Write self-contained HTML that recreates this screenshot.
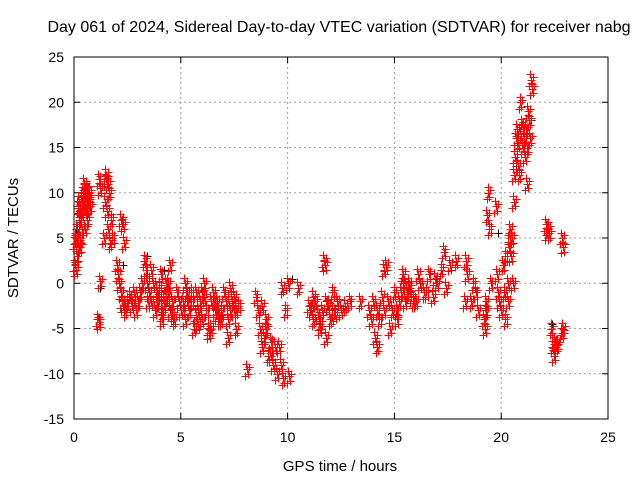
<!DOCTYPE html>
<html><head><meta charset="utf-8"><style>
body{margin:0;background:#fff;}
svg{display:block;font-family:"Liberation Sans",sans-serif;}
</style></head><body>
<svg id="chart" width="640" height="480" viewBox="0 0 640 480">
<rect width="640" height="480" fill="#fff"/>
<text x="339" y="32" text-anchor="middle" font-size="16">Day 061 of 2024, Sidereal Day-to-day VTEC variation (SDTVAR) for receiver nabg</text>
<g id="grid"></g>
<g id="axes"></g>
<g id="marks"></g>
<text x="340" y="471" text-anchor="middle" font-size="15">GPS time / hours</text>
<text x="18" y="238" text-anchor="middle" font-size="15" transform="rotate(-90 18 238)">SDTVAR / TECUs</text>
</svg>
<script>
const xTicks=[0,5,10,15,20,25];
const yTicks=[-15,-10,-5,0,5,10,15,20,25];
const hours=[0.05,0.05,0.08,0.1,0.12,0.15,0.18,0.2,0.22,0.25,0.28,0.3,0.32,0.35,0.38,0.4,0.42,0.45,0.48,0.5,0.52,0.55,0.58,0.6,0.62,0.65,0.68,0.7,0.72,0.75,0.3,0.5,
1.1,1.15,1.2,1.15,1.2,1.4,1.45,1.5,1.55,1.6,1.65,1.7,1.75,1.8,1.5,1.6,
2.0,2.05,2.1,2.2,2.25,2.3,2.35,2.4,2.2,2.3,2.35,2.5,2.6,2.7,2.8,2.9,3.0,3.1,3.2,3.3,3.35,3.4,3.45,
3.5,3.6,3.7,3.8,3.9,4.0,4.05,4.1,4.2,4.3,4.4,4.5,4.6,4.7,4.8,4.9,3.6,3.8,4.0,4.2,4.4,4.6,4.8,3.9,4.1,4.3,4.5,
5.0,5.1,5.2,5.3,5.4,5.5,5.6,5.7,5.8,5.9,6.0,6.1,6.2,6.3,6.4,6.5,6.6,6.7,6.8,6.9,7.0,7.1,7.2,7.3,7.4,7.5,7.6,7.7,5.2,5.5,5.8,6.1,6.4,6.7,7.0,7.3,7.6,5.3,5.7,6.0,6.3,6.6,6.9,7.2,7.5,
8.1,8.5,8.6,8.7,8.8,8.9,9.0,9.1,9.2,9.3,9.4,8.8,9.0,9.2,9.5,9.6,9.7,9.8,9.9,10.0,10.05,9.75,10.5,
11.0,11.1,11.2,11.3,11.4,11.5,11.6,11.7,11.75,11.8,11.9,12.0,12.1,12.2,12.3,11.2,11.5,11.8,12.1,12.5,12.7,12.9,13.4,
13.8,13.9,14.0,14.1,14.2,14.3,14.4,14.5,14.6,14.7,14.8,14.9,15.0,15.1,15.2,15.3,15.4,15.5,15.6,15.7,15.8,15.9,14.2,14.5,14.8,15.1,15.4,15.7,
16.0,16.2,16.4,16.6,16.8,17.0,17.2,17.4,16.1,16.5,16.9,17.3,17.6,17.9,18.3,18.35,18.4,
18.6,18.7,18.8,18.9,19.2,19.25,19.3,19.35,19.4,19.45,19.3,19.5,19.75,19.8,19.85,19.9,
20.0,20.1,20.15,20.2,20.3,20.35,20.4,20.45,20.5,20.55,20.6,20.65,20.7,20.75,20.8,20.85,20.9,20.95,21.0,21.05,21.1,21.15,21.2,21.25,21.3,21.35,21.4,21.45,20.2,20.3,20.4,20.6,20.8,21.0,21.2,
22.1,22.15,22.2,22.25,22.35,22.4,22.45,22.5,22.55,22.6,22.85,22.9,22.85,22.9];
const sdtvar=[2,4.5,1.5,5,3,6,4.5,8.5,7,9,5,7.5,8,9.5,6,10,8.5,9,11,10.5,8,9.5,10,7,10.5,9,8.5,10,9.5,8.5,4,6,
-4,-4.3,0.2,11.5,10.5,5,9,11.5,8,6,10,4.5,7,5,12,11,
2,1,0,-1,-2,-2.5,4.5,-3,7,6.5,4.5,-2,-1.5,-2.5,-1,-3,-2,-1,0,2.5,1.5,0,-2,
-1,-2,0,-3,-1,-2,1,-3.5,-2,0,-1,-3,-2,-4,-1,-2,1.5,-3,-0.5,-2.5,0,-3.5,-1,-2,-4,-1.5,2,
-3,-2,-4,-1,-3,-2,-5,-1,-3,-2,-4,-1.5,-3,-5,-2,-1,-3,-2,-4,-3,-1,-2,-4,-3,-2,-1.5,-3,-2.5,0,-1,-4.5,0,-5,-3.5,-1,-0.5,-5,-2,-3.5,-1,-5.5,-2,-4,-6,-3,
-9.5,-1.5,-3,-5,-7,-6,-4,-8,-6.5,-9,-7,-2.5,-5,-8,-10,-7,-9,-10.5,-3,0,-10.3,-0.5,-0.5,
-2.5,-3,-4,-2,-3.5,-5,-3,2.5,2,-6,-2.5,-4,-3,-3.5,-2,-1.5,-4.5,-2,-1,-3,-2.5,-2,-2,
-3,-4,-2,-6,-3,-4,-1.5,-3,2,-2,-5,-3,-1,-4,-2,-1,0,-2,-1,0,-1.5,-2,-7,1.5,-5,-3,1,-0.5,
-2,0,-1,1,-1.5,0,1.5,-0.5,1,-1,0.5,3.5,2,2.5,-2,2.5,1,
-2,0,-1,-3,-4,-5,-3,7.5,10,6,-2,0,8.5,1,-1,-2,
-3,2,-1,3,-2,4,6,3,5,0,12,14,16,17,15.5,12,20,17.5,15,16,14,17,15,19,18,16,22.5,21.5,-4,0,5,9,13,17,11,
6.5,5.5,6,5.5,-5,-7,-8,-6.5,-7,-6.8,5,4,-5.5,-5];
const blackH=[0.1,1.2,2.3,3.4,4.2,10.2,19.85,20.7,21.4,22.4];
const blackV=[6,-0.5,2,3,1.5,0.5,5.5,13,18,-4.5];
const L=74,R=608,T=57,B=419;
const xs=v=>L+(v-0)/25*(R-L);
const ys=v=>B-(v+15)/40*(B-T);
const NS="http://www.w3.org/2000/svg";
const grid=document.getElementById('grid'),axes=document.getElementById('axes'),marks=document.getElementById('marks');
function mk(tag,at,parent){const e=document.createElementNS(NS,tag);for(const k in at)e.setAttribute(k,at[k]);parent.appendChild(e);return e;}
xTicks.forEach(t=>{const x=xs(t);
 if(t>0&&t<25){const g=mk('line',{x1:x,x2:x,y1:T,y2:B,stroke:'#a0a0a0','stroke-dasharray':'2,3'},grid);
 
 }
 mk('line',{x1:x,x2:x,y1:B,y2:B-6,stroke:'#000'},axes);mk('line',{x1:x,x2:x,y1:T,y2:T+6,stroke:'#000'},axes);
 const tx=mk('text',{x:x,y:B+23,'text-anchor':'middle','font-size':'14'},axes);tx.textContent=t;
 
 });
yTicks.forEach(t=>{const y=ys(t);
 if(t>-15&&t<25){const g=mk('line',{x1:L,x2:R,y1:y,y2:y,stroke:'#a0a0a0','stroke-dasharray':'2,3'},grid);
 
 }
 mk('line',{x1:L,x2:L+6,y1:y,y2:y,stroke:'#000'},axes);mk('line',{x1:R,x2:R-6,y1:y,y2:y,stroke:'#000'},axes);
 const tx=mk('text',{x:L-10,y:y+5,'text-anchor':'end','font-size':'14'},axes);tx.textContent=t;
 
 });
mk('rect',{x:L,y:T,width:R-L,height:B-T,fill:'none',stroke:'#000'},axes);
function plus(h,v,c){const x=Math.round(xs(h))+0.5,y=Math.round(ys(v))+0.5;
 const p=mk('path',{d:`M${x-4},${y}H${x+4}M${x},${y-4}V${y+4}`,stroke:c,'stroke-width':1},marks);
 return p;}
blackH.forEach((h,i)=>{const p=plus(h,blackV[i],'#000');
 
 });
const jit=[[0,0],[0.05,-0.5],[-0.04,0.6],[0.09,0.3],[-0.08,-0.7]];
hours.forEach((h,i)=>{jit.forEach(j=>{
 const p=plus(h+j[0],sdtvar[i]+j[1],'#f00');
 
 });});
</script>
</body></html>
